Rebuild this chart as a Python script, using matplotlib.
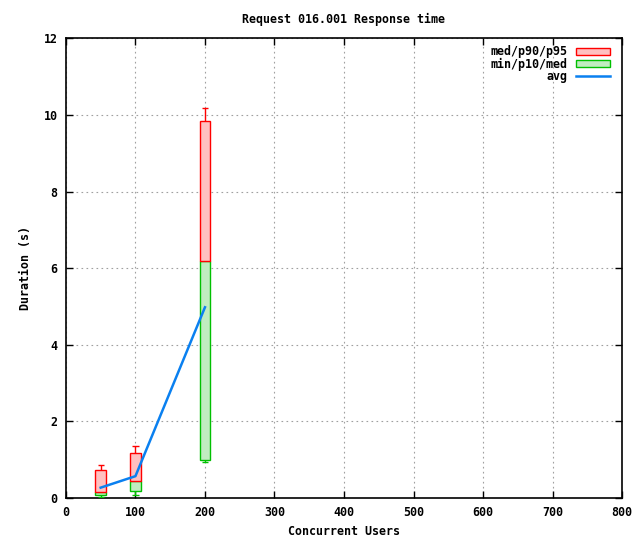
import matplotlib
matplotlib.use('Agg')
import matplotlib.pyplot as plt
from matplotlib.patches import Patch
from matplotlib.lines import Line2D

#data
users = [50, 100, 200]
p_min = [0.02, 0.07, 0.93]
p10 = [0.07, 0.18, 0.99]
med = [0.15, 0.44, 6.20]
p90 = [0.72, 1.17, 9.85]
p95 = [0.85, 1.35, 10.19]
avg = [0.27, 0.57, 4.98]

xticks = [0, 100, 200, 300, 400, 500, 600, 700, 800]
yticks = [0, 2, 4, 6, 8, 10, 12]

#settings
font = 8.4
red_edge = '#ff0000'
red_face = '#ffc0c0'
green_edge = '#00c000'
green_face = '#c0ecc0'
blue = '#0a80f0'
box_w = 15
cap_w = 9

plt.rcParams['font.family'] = 'DejaVu Sans Mono'
plt.rcParams['font.weight'] = 'bold'

f = plt.figure(figsize=(6.4, 5.4), dpi=100)
ax = f.add_axes([0.103, 0.0778, 0.869, 0.851])

#boxes
lo_h = [m - p for m, p in zip(med, p10)]
hi_h = [p - m for p, m in zip(p90, med)]
ax.bar(users, lo_h, bottom=p10, width=box_w, color=green_face,
       edgecolor=green_edge, linewidth=1.0, zorder=3)
ax.bar(users, hi_h, bottom=med, width=box_w, color=red_face,
       edgecolor=red_edge, linewidth=1.0, zorder=3)

#whiskers
ax.vlines(users, p90, p95, color=red_edge, lw=1.0, zorder=3)
ax.hlines(p95, [u - cap_w / 2 for u in users], [u + cap_w / 2 for u in users],
          color=red_edge, lw=1.0, zorder=3)
ax.vlines(users, p_min, p10, color=green_edge, lw=1.0, zorder=3)
ax.hlines(p_min, [u - cap_w / 2 for u in users], [u + cap_w / 2 for u in users],
          color=green_edge, lw=1.0, zorder=3)

#average line
ax.plot(users, avg, color=blue, lw=1.8, zorder=4)

#axes
ax.set_xlim(0, 800)
ax.set_ylim(0, 12)
ax.set_xticks(xticks)
ax.set_yticks(yticks)
ax.tick_params(axis='both', direction='in', length=5, width=1.0,
               top=True, right=True, labelsize=font, pad=6)
for s in ax.spines.values():
    s.set_linewidth(1.2)
ax.grid(color='#a0a0a0', linestyle=(0, (1.5, 3)), linewidth=0.8)
ax.set_axisbelow(True)

#labels
ax.set_title('Request 016.001 Response time', fontsize=font, fontweight='bold', pad=11)
ax.set_xlabel('Concurrent Users', fontsize=font, fontweight='bold', labelpad=4)
ax.set_ylabel('Duration (s)', fontsize=font, fontweight='bold', labelpad=8)

#legend
handles = [Patch(facecolor=red_face, edgecolor=red_edge, lw=1.0),
           Patch(facecolor=green_face, edgecolor=green_edge, lw=1.0),
           Line2D([], [], color=blue, lw=1.8)]
labels = ['med/p90/p95', 'min/p10/med', 'avg']
ax.legend(handles, labels, loc='upper right', markerfirst=False, frameon=False,
          fontsize=font, handlelength=2.9, handleheight=0.55, handletextpad=0.7,
          labelspacing=-0.08, borderaxespad=0.2, bbox_to_anchor=(0.99, 1.0))

f.savefig('out.png', dpi=100)
